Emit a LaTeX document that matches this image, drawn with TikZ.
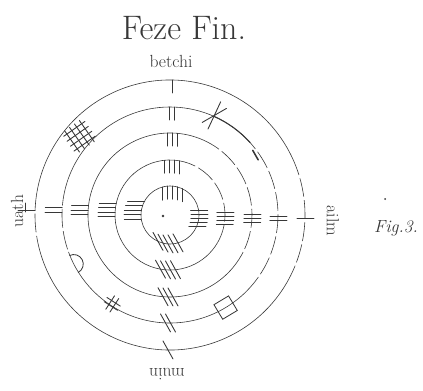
\documentclass[tikz,border=0pt]{standalone}
\usepackage{tikz}
\usetikzlibrary{calc}
\definecolor{ogInk}  {RGB}{ 55, 55, 55}
\definecolor{ogPaper}{RGB}{255,255,255}

\begin{document}
\begin{tikzpicture}[x=0.03cm,y=0.03cm,
  every node/.style={font=\fontsize{15}{16}\selectfont,text=ogInk},
  ring/.style={draw=ogInk,line width=0.5pt},
  broken/.style={ring,dash pattern=on 16pt off 3pt},
  score/.style={draw=ogInk,line width=0.75pt,line cap=round}
]
\useasboundingbox[fill=ogPaper] (-170,-175) rectangle (253,215);

% rings
\draw[ring] (0,0) circle (29);
\foreach \r/\a/\b in {55/75/330, 82/60/320, 108/40/165, 108/200/315,
                      135/25/170, 135/195/330}
  \draw[ring] (\a:\r) arc (\a:\b:\r);
\foreach \r/\a/\b in {55/330/435, 82/320/420, 108/165/200, 108/315/400,
                      135/170/195, 135/330/385}
  \draw[broken] (\a:\r) arc (\a:\b:\r);
\draw[ogInk,line width=0.9pt] (42:108) arc (42:66:108);
\draw[score,line width=1.3pt] (32:104) -- (38:105);

% aicme strokes
\foreach \n/\r in {1/135,2/108,3/82,4/55,5/29}{
  \foreach \i in {1,...,\n}{
    % top
    \pgfmathsetmacro\xx{2+(\i-(\n+1)/2)*5}
    \draw[score] (\xx,{\r*sqrt(1-(\xx/\r)^2)}) -- ++(0,-13);
    % left
    \pgfmathsetmacro\yy{5+(\i-(\n+1)/2)*4.5}
    \draw[score] ({-\r*sqrt(1-(\yy/\r)^2)},\yy) -- ++(-17,0);
    % right
    \pgfmathsetmacro\yr{-3+(\i-(\n+1)/2)*4}
    \draw[score] ({\r*sqrt(1-(\yr/\r)^2)-8},\yr) -- ++(17,0);
    % bottom
    \pgfmathsetmacro\xb{-2+(\i-(\n+1)/2)*5}
    \draw[score] ($(\xb,{-\r*sqrt(1-(\xb/\r)^2)})+(-5,9)$) -- ++(10,-18);
  }
}
\draw[score] (-145,3) -- (-145,12);

% extra signs
\begin{scope}[shift={(139:120)},rotate=35]
  \foreach \k in {-9,-3,3,9}{
    \draw[score] (\k,-13) -- (\k,13);
    \draw[score] (-13,\k) -- (13,\k);
  }
\end{scope}
\begin{scope}[shift={(66:109)}]
  \draw[score] (-115:15) -- (65:15);
  \draw[score] (-150:14) -- (30:14);
\end{scope}
\begin{scope}[shift={(237:106)},rotate=-33]
  \foreach \k in {-2.5,2.5}{
    \draw[score] (\k,-8) -- (\k,8);
    \draw[score] (-8,\k) -- (8,\k);
  }
\end{scope}
\begin{scope}[shift={(301:108)},rotate=31]
  \draw[ring,line width=0.7pt] (-8.5,-8.5) rectangle (8.5,8.5);
\end{scope}
\begin{scope}[shift={(207:108)},rotate=207]
  \draw[ring,line width=0.7pt] (0,-9.5) arc (-90:-270:9.5);
\end{scope}

% centre
\fill[ogInk] (-7,-1) circle (1.3);

% labels
\node (beth) at (1,154) {betchi};
\node[rotate=90] (uath) at (-153,4) {uath};
\node[rotate=-90] (ailm) at (163,-6) {ailm};
\node[rotate=180] (muin) at (-3,-159) {muin};
\node[font=\fontsize{29}{32}\selectfont] (title) at (14,187) {Feze Fin.};
\node[font=\itshape\fontsize{15}{17}\selectfont] (fig) at (226,-13) {Fig.3.};
\fill[ogInk] (215,16) circle (1);
\end{tikzpicture}
\end{document}
